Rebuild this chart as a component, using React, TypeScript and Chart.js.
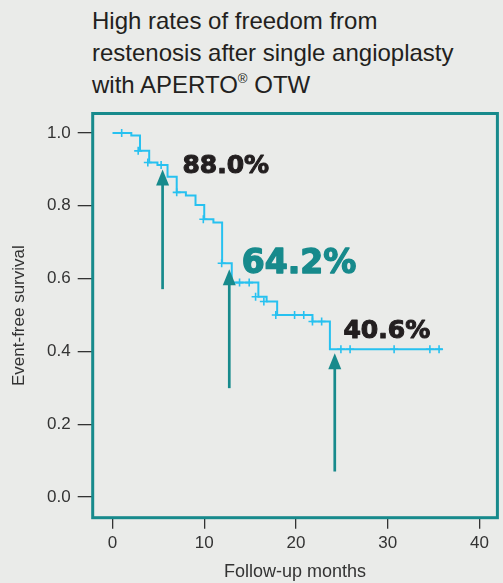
import React, { useEffect, useRef } from "react";
import { Chart, registerables } from "chart.js";

Chart.register(...registerables);

// Kaplan-Meier steps: time of event (months) and survival after the event
const eventTimes = [0, 2.05, 3.0, 4.0, 4.9, 6.0, 7.0, 8.0, 9.05, 10.0, 11.0, 11.95, 13.0, 15.9, 16.8, 17.95, 21.8, 23.7, 36.0];
const survival = [1.0, 0.993, 0.951, 0.919, 0.912, 0.88, 0.837, 0.828, 0.802, 0.763, 0.754, 0.642, 0.589, 0.55, 0.537, 0.5, 0.482, 0.406, 0.406];

// Censored observations
const censorTimes = [1.0, 2.8, 3.85, 5.3, 7.0, 9.9, 11.9, 13.85, 14.9, 15.6, 16.5, 17.8, 19.85, 20.85, 21.8, 22.8, 24.9, 25.9, 30.7, 34.6, 35.6];
const censorSurvival = [1.0, 0.951, 0.919, 0.912, 0.837, 0.763, 0.642, 0.589, 0.589, 0.55, 0.537, 0.5, 0.5, 0.5, 0.482, 0.482, 0.406, 0.406, 0.406, 0.406, 0.406];

// Highlighted values (arrows + labels)
const calloutLabels = ["88.0%", "64.2%", "40.6%"];
const arrowTimes = [5.46, 12.73, 24.23];
const arrowTips = [0.9, 0.626, 0.395];
const arrowBases = [0.571, 0.299, 0.07];
const labelTimes = [7.62, 14.1, 25.18];
const labelBaselines = [0.889, 0.616, 0.436];

const xTicks = [0, 10, 20, 30, 40];
const yTicks = [0, 0.2, 0.4, 0.6, 0.8, 1.0];

const TEAL = "#178a8c";
const CYAN = "#27c1f0";
const DARK = "#231f20";
const FONT = "'Liberation Sans', Arial, Helvetica, sans-serif";
const BOLD_FONT = "'DejaVu Sans', sans-serif";

const annotationPlugin = {
  id: "kmAnnotations",
  afterDatasetsDraw(chart: any) {
    const { ctx, chartArea, scales } = chart;
    const x = scales.x;
    const y = scales.y;
    ctx.save();
    // teal frame
    ctx.strokeStyle = TEAL;
    ctx.lineWidth = 3;
    ctx.strokeRect(chartArea.left, chartArea.top, chartArea.right - chartArea.left, chartArea.bottom - chartArea.top);

    // arrows
    for (let i = 0; i < arrowTimes.length; i++) {
      const px = x.getPixelForValue(arrowTimes[i]);
      const tip = y.getPixelForValue(arrowTips[i]);
      const base = y.getPixelForValue(arrowBases[i]);
      const headH = 16;
      const headW = 13;
      ctx.strokeStyle = TEAL;
      ctx.lineWidth = 2.7;
      ctx.beginPath();
      ctx.moveTo(px, base);
      ctx.lineTo(px, tip + headH - 1);
      ctx.stroke();
      ctx.fillStyle = TEAL;
      ctx.beginPath();
      ctx.moveTo(px, tip);
      ctx.lineTo(px - headW / 2, tip + headH);
      ctx.lineTo(px + headW / 2, tip + headH);
      ctx.closePath();
      ctx.fill();
    }

    // labels (slightly emboldened with a stroke to mimic a heavy face)
    ctx.textAlign = "left";
    ctx.textBaseline = "alphabetic";
    ctx.lineJoin = "round";
    for (let i = 0; i < calloutLabels.length; i++) {
      const big = i === 1;
      ctx.font = `bold ${big ? 33 : 25}px ${BOLD_FONT}`;
      const col = big ? TEAL : DARK;
      ctx.fillStyle = col;
      ctx.strokeStyle = col;
      ctx.lineWidth = big ? 1.4 : 1.1;
      const lx = x.getPixelForValue(labelTimes[i]);
      const ly = y.getPixelForValue(labelBaselines[i]);
      ctx.fillText(calloutLabels[i], lx, ly);
      ctx.strokeText(calloutLabels[i], lx, ly);
    }
    ctx.restore();
  },
};

export default function App() {
  const ref = useRef<HTMLCanvasElement | null>(null);

  useEffect(() => {
    if (!ref.current) return;
    const chart = new Chart(ref.current, {
      type: "scatter",
      data: {
        datasets: [
          {
            label: "Event-free survival",
            data: eventTimes.map((t, i) => ({ x: t, y: survival[i] })),
            showLine: true,
            stepped: "before",
            borderColor: CYAN,
            borderWidth: 2,
            pointRadius: 0,
            fill: false,
          },
          {
            label: "Censored",
            data: censorTimes.map((t, i) => ({ x: t, y: censorSurvival[i] })),
            showLine: false,
            pointStyle: "cross",
            pointRadius: 4,
            borderColor: CYAN,
            backgroundColor: CYAN,
            borderWidth: 1.6,
          },
        ],
      } as any,
      options: {
        animation: false,
        responsive: false,
        maintainAspectRatio: false,
        layout: { padding: { top: 113.5, right: 1.5, bottom: 0, left: 0 } },
        plugins: {
          legend: { display: false },
          tooltip: { enabled: false },
          title: { display: false },
        },
        scales: {
          x: {
            type: "linear",
            min: -2.159,
            max: 41.96,
            afterFit: (s: any) => {
              s.height = 65.3;
            },
            afterBuildTicks: (s: any) => {
              s.ticks = xTicks.map((v) => ({ value: v }));
            },
            grid: { drawOnChartArea: false, drawTicks: true, tickLength: 11, color: "#333", lineWidth: 1.3 },
            border: { display: false },
            ticks: {
              color: "#333",
              font: { family: FONT, size: 17 },
              padding: 4,
              autoSkip: false,
              maxRotation: 0,
              callback: (v: any) => String(v),
            },
            title: {
              display: true,
              text: "Follow-up months",
              color: "#333",
              font: { family: FONT, size: 18 },
              padding: { top: 0, bottom: 0 },
            },
          },
          y: {
            type: "linear",
            min: -0.0569,
            max: 1.0536,
            afterFit: (s: any) => {
              s.width = 92.7;
            },
            afterBuildTicks: (s: any) => {
              s.ticks = yTicks.map((v) => ({ value: v }));
            },
            grid: { drawOnChartArea: false, drawTicks: true, tickLength: 15, color: "#333", lineWidth: 1.3 },
            border: { display: false },
            ticks: {
              color: "#333",
              font: { family: FONT, size: 17 },
              padding: 7,
              autoSkip: false,
              callback: (v: any) => Number(v).toFixed(1),
            },
            title: {
              display: true,
              text: "Event-free survival",
              color: "#333",
              font: { family: FONT, size: 17 },
              padding: { top: 9, bottom: 0 },
            },
          },
        },
      } as any,
      plugins: [annotationPlugin],
    });
    return () => chart.destroy();
  }, []);

  return (
    <div
      style={{
        position: "absolute",
        left: 0,
        top: 0,
        width: 503,
        height: 583,
        background: "#eaebe9",
        overflow: "hidden",
      }}
    >
      <div
        style={{
          position: "absolute",
          left: 92,
          top: 5,
          fontFamily: FONT,
          fontSize: 24,
          lineHeight: "32px",
          color: DARK,
          whiteSpace: "nowrap",
        }}
      >
        High rates of freedom from
        <br />
        restenosis after single angioplasty
        <br />
        with APERTO<sup style={{ fontSize: "0.55em", lineHeight: 0, verticalAlign: "0.75em" }}>®</sup> OTW
      </div>
      <canvas ref={ref} width={503} height={583} style={{ position: "absolute", left: 0, top: 0, display: "block" }} />
    </div>
  );
}
